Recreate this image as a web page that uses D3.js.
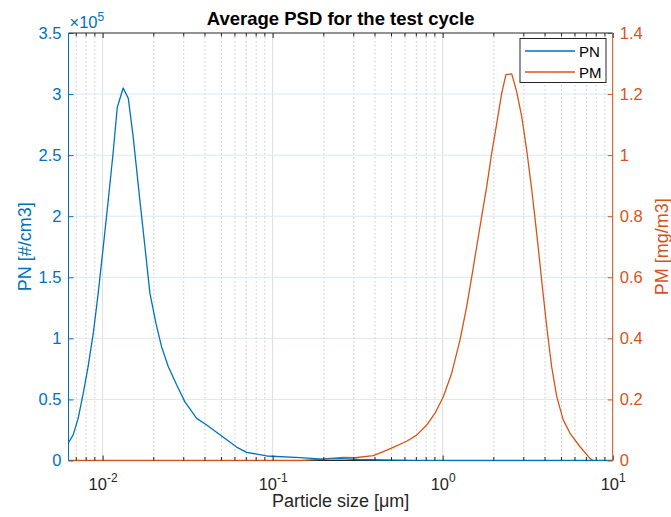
<!DOCTYPE html>
<html>
<head>
<meta charset="utf-8">
<script src="https://cdn.jsdelivr.net/npm/d3@7"></script>
<style>
  body { margin: 0; background: #fff; }
  svg { display: block; font-family: Arial, "Liberation Sans", Helvetica, sans-serif; }
</style>
</head>
<body>
<svg id="chart" width="671" height="517"></svg>
<script>
// Particle number size distribution (µm, #/cm3)
const pnSize = [0.0063, 0.00671, 0.00718, 0.00769, 0.00822, 0.00881, 0.00942, 0.01009, 0.01079, 0.01153,
  0.01219, 0.01321, 0.01416, 0.0151, 0.01656, 0.01774, 0.01897, 0.02061, 0.02223, 0.02432,
  0.02723, 0.03048, 0.03573, 0.04093, 0.04898, 0.06138, 0.07031, 0.09226, 0.1449, 0.1986,
  0.25, 0.32, 0.45, 0.7, 1.0, 10];
const pnValue = [14600, 21000, 34500, 55000, 77000, 104000, 137000, 175000, 213000, 252000,
  289000, 305000, 296500, 266000, 213000, 175000, 137000, 112000, 93000, 77000,
  62000, 48000, 34500, 29000, 21000, 11000, 6700, 3700, 2300, 1200,
  1500, 800, 400, 100, 0, 0];

// Particle mass size distribution (µm, mg/m3)
const pmSize = [0.0063, 0.1449, 0.1897, 0.2173, 0.26, 0.3048, 0.3908, 0.4477, 0.5117, 0.6138,
  0.7031, 0.8054, 0.9016, 1.009, 1.13, 1.265, 1.384, 1.483, 1.585, 1.694,
  1.816, 1.941, 2.08, 2.223, 2.355, 2.547, 2.723, 2.917, 3.119, 3.342,
  3.573, 3.819, 4.093, 4.375, 4.688, 5.117, 5.61, 6.427, 7.345, 7.656];
const pmValue = [0, 0, 0.004, 0.007, 0.010, 0.009, 0.016, 0.029, 0.043, 0.063,
  0.083, 0.116, 0.155, 0.209, 0.286, 0.395, 0.504, 0.602, 0.700, 0.798,
  0.897, 1.006, 1.104, 1.202, 1.264, 1.266, 1.208, 1.126, 1.017, 0.886,
  0.744, 0.591, 0.438, 0.307, 0.209, 0.133, 0.089, 0.045, 0.007, 0];

const xTickValues = [0.01, 0.1, 1, 10];
const xTickExponents = ["-2", "-1", "0", "1"];
const pnTickValues = [0, 50000, 100000, 150000, 200000, 250000, 300000, 350000];
const pnTickLabels = ["0", "0.5", "1", "1.5", "2", "2.5", "3", "3.5"];
const pmTickValues = [0, 0.2, 0.4, 0.6, 0.8, 1.0, 1.2, 1.4];
const pmTickLabels = ["0", "0.2", "0.4", "0.6", "0.8", "1", "1.2", "1.4"];
const seriesNames = ["PN", "PM"];

const blue = "#0072BD", orange = "#D95319", dark = "#262626";
const L = 68.5, R = 612.7, T = 33, B = 460.5;
const tickFont = "16.5px", labelFont = "18px";

const svg = d3.select("#chart");

const x = d3.scaleLog().domain([0.0063, 10]).range([L, R]);
const yPN = d3.scaleLinear().domain([0, 350000]).range([B, T]);
const yPM = d3.scaleLinear().domain([0, 1.4]).range([B, T]);

// minor decade positions (2..9 × 10^k) inside the domain
const minorTicks = [];
for (let k = -3; k <= 0; k++) {
  for (let m = 2; m <= 9; m++) {
    const v = m * Math.pow(10, k);
    if (v >= x.domain()[0] && v <= x.domain()[1]) minorTicks.push(v);
  }
}

// grid
const grid = svg.append("g");
grid.selectAll(".minor").data(minorTicks).join("line")
  .attr("x1", d => x(d)).attr("x2", d => x(d)).attr("y1", T).attr("y2", B)
  .attr("stroke", "#c8c8c8").attr("stroke-width", 1).attr("stroke-dasharray", "1.5,2.5");
grid.selectAll(".major").data(xTickValues).join("line")
  .attr("x1", d => x(d)).attr("x2", d => x(d)).attr("y1", T).attr("y2", B)
  .attr("stroke", "#dedede").attr("stroke-width", 1);
grid.selectAll(".ygrid").data(pnTickValues.slice(1, -1)).join("line")
  .attr("x1", L).attr("x2", R).attr("y1", d => yPN(d)).attr("y2", d => yPN(d))
  .attr("stroke", "#dbe8f3").attr("stroke-width", 1);

// data lines
svg.append("clipPath").attr("id", "plotClip").append("rect")
  .attr("x", L).attr("y", T).attr("width", R - L).attr("height", B - T + 1);
const plot = svg.append("g").attr("clip-path", "url(#plotClip)");

const pnData = pnSize.map((s, i) => [s, pnValue[i]]);
const pmData = pmSize.map((s, i) => [s, pmValue[i]]);

plot.append("path").datum(pmData)
  .attr("fill", "none").attr("stroke", orange).attr("stroke-width", 1.3)
  .attr("stroke-linejoin", "round")
  .attr("d", d3.line().x(d => x(d[0])).y(d => yPM(d[1])));
plot.append("path").datum(pnData)
  .attr("fill", "none").attr("stroke", blue).attr("stroke-width", 1.3)
  .attr("stroke-linejoin", "round")
  .attr("d", d3.line().x(d => x(d[0])).y(d => yPN(d[1])));

// axes
function styleAxis(g, color) {
  g.select(".domain").remove();
  g.selectAll(".tick line").attr("stroke", color);
  g.selectAll(".tick text").attr("fill", color).style("font-size", tickFont);
}

// bottom
const xAxisB = svg.append("g").attr("transform", `translate(0,${B})`)
  .call(d3.axisBottom(x).tickValues(xTickValues).tickSize(-5).tickPadding(9).tickFormat(""));
styleAxis(xAxisB, dark);
xAxisB.append("g").selectAll("line").data(minorTicks).join("line")
  .attr("x1", d => x(d)).attr("x2", d => x(d)).attr("y1", 0).attr("y2", -3.5).attr("stroke", dark);
xAxisB.selectAll(".tick").append("text")
  .attr("y", 29).attr("text-anchor", "middle").attr("fill", dark).style("font-size", tickFont)
  .each(function (d, i) {
    const t = d3.select(this);
    t.append("tspan").text("10");
    t.append("tspan").attr("dy", -8).style("font-size", "12px").text(xTickExponents[i]);
  });

// top
const xAxisT = svg.append("g").attr("transform", `translate(0,${T})`)
  .call(d3.axisTop(x).tickValues(xTickValues).tickSize(-5).tickFormat(""));
styleAxis(xAxisT, dark);
xAxisT.append("g").selectAll("line").data(minorTicks).join("line")
  .attr("x1", d => x(d)).attr("x2", d => x(d)).attr("y1", 0).attr("y2", 3.5).attr("stroke", dark);

// left (PN)
const yAxisL = svg.append("g").attr("transform", `translate(${L},0)`)
  .call(d3.axisLeft(yPN).tickValues(pnTickValues).tickSize(-5).tickPadding(7)
    .tickFormat((d, i) => pnTickLabels[i]));
styleAxis(yAxisL, blue);

// right (PM)
const yAxisR = svg.append("g").attr("transform", `translate(${R},0)`)
  .call(d3.axisRight(yPM).tickValues(pmTickValues).tickSize(-5).tickPadding(7)
    .tickFormat((d, i) => pmTickLabels[i]));
styleAxis(yAxisR, orange);

// frame
svg.append("line").attr("x1", L).attr("x2", R).attr("y1", T).attr("y2", T).attr("stroke", dark);
svg.append("line").attr("x1", L).attr("x2", R).attr("y1", B).attr("y2", B).attr("stroke", dark).lower();
svg.append("line").attr("x1", L).attr("x2", L).attr("y1", T).attr("y2", B).attr("stroke", blue);
svg.append("line").attr("x1", R).attr("x2", R).attr("y1", T).attr("y2", B).attr("stroke", orange);

// exponent marker for the PN axis
const expo = svg.append("text").attr("x", L + 1).attr("y", 27.5).attr("fill", blue).style("font-size", tickFont);
expo.append("tspan").text("\u00d710");
expo.append("tspan").attr("dy", -7).style("font-size", "12px").text("5");

// title and axis labels
svg.append("text").attr("x", (L + R) / 2).attr("y", 25).attr("text-anchor", "middle")
  .attr("fill", "#000").style("font-size", "18.5px").style("font-weight", "bold")
  .text("Average PSD for the test cycle");
svg.append("text").attr("x", (L + R) / 2).attr("y", 507).attr("text-anchor", "middle")
  .attr("fill", dark).style("font-size", labelFont).text("Particle size [\u03bcm]");
svg.append("text").attr("transform", `translate(30.5,${(T + B) / 2}) rotate(-90)`)
  .attr("text-anchor", "middle").attr("fill", blue).style("font-size", labelFont).text("PN [#/cm3]");
svg.append("text").attr("transform", `translate(668,${(T + B) / 2}) rotate(-90)`)
  .attr("text-anchor", "middle").attr("fill", orange).style("font-size", labelFont).text("PM [mg/m3]");

// legend
const legend = svg.append("g");
legend.append("rect").attr("x", 520).attr("y", 38.5).attr("width", 86).attr("height", 44)
  .attr("fill", "#fff").attr("stroke", dark).attr("stroke-width", 1);
[blue, orange].forEach((c, i) => {
  const yy = 51 + i * 21;
  legend.append("line").attr("x1", 525).attr("x2", 575).attr("y1", yy).attr("y2", yy)
    .attr("stroke", c).attr("stroke-width", 1.3);
  legend.append("text").attr("x", 579).attr("y", yy + 5.5).attr("fill", "#000")
    .style("font-size", "15px").text(seriesNames[i]);
});
</script>
</body>
</html>
